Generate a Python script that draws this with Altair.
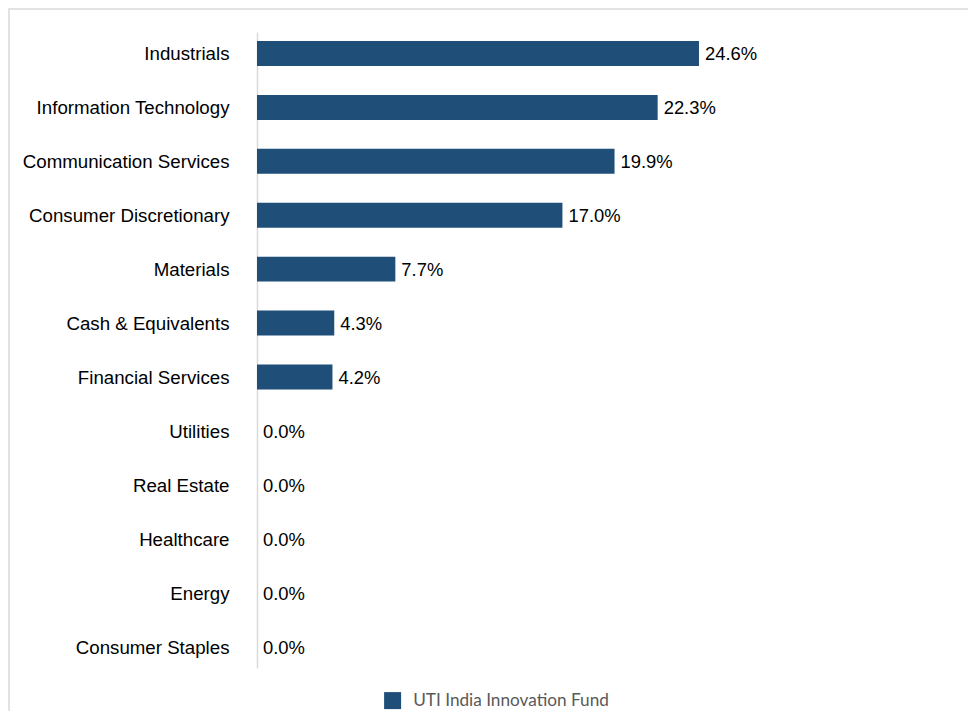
import altair as alt
import pandas as pd

sectors = ["Industrials", "Information Technology", "Communication Services",
           "Consumer Discretionary", "Materials", "Cash & Equivalents",
           "Financial Services", "Utilities", "Real Estate", "Healthcare",
           "Energy", "Consumer Staples"]
weights = [24.6, 22.3, 19.9, 17.0, 7.7, 4.3, 4.2, 0.0, 0.0, 0.0, 0.0, 0.0]
series_name = "UTI India Innovation Fund"

df = pd.DataFrame({"sector": sectors, "weight": weights, "series": series_name})
df["label"] = [f"{w:.1f}%" for w in weights]

y = alt.Y("sector:N", sort=sectors, title=None,
          scale=alt.Scale(paddingInner=0.537, paddingOuter=0.167),
          axis=alt.Axis(ticks=False, labelPadding=28, labelFontSize=18.7,
                        labelFont="Liberation Sans", labelColor="#000000",
                        labelLimit=400, labelOffset=1,
                        domainColor="#d9d9d9", domainWidth=1.5))
x = alt.X("weight:Q", scale=alt.Scale(domain=[0, 30]), axis=None)

bars = alt.Chart(df).mark_bar().encode(
    x=x, y=y,
    color=alt.Color("series:N", scale=alt.Scale(range=["#1f4e79"]),
                    legend=alt.Legend(title=None, orient="none", legendX=127, legendY=660,
                                      symbolType="square", symbolSize=289,
                                      symbolStrokeWidth=0, labelOffset=12,
                                      labelLimit=400,
                                      labelFont="Lato", labelFontSize=17.2,
                                      labelColor="#595959"))
)
text = alt.Chart(df).mark_text(align="left", baseline="middle", dx=6, dy=1,
                               font="Liberation Sans", fontSize=18.4,
                               color="#000000").encode(x=x, y=y, text="label:N")

frame = alt.Chart(pd.DataFrame({"a": [0]})).mark_rect(
    fill="transparent", stroke="#d9d9d9", strokeWidth=1.5
).encode(x=alt.value(-248), x2=alt.value(900), y=alt.value(-23), y2=alt.value(900))

chart = alt.layer(frame, bars, text).properties(
    width=539, height=636,
    autosize=alt.AutoSizeParams(type="none"),
    padding={"left": 249, "top": 24, "right": 172, "bottom": 44},
).configure_view(stroke=None)

chart.save("out.html", embed_options={"renderer": "svg", "actions": False})
